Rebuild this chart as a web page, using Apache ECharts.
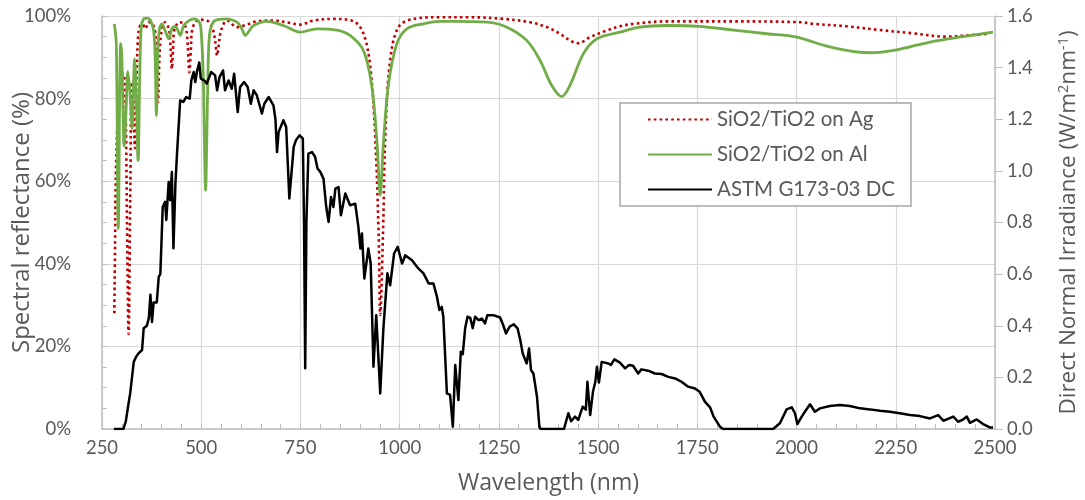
<!DOCTYPE html>
<html><head><meta charset="utf-8">
<script src="https://cdn.jsdelivr.net/npm/echarts@6/dist/echarts.min.js"></script>
<style>html,body{margin:0;padding:0;background:#fff}#c{width:1085px;height:500px}</style>
</head><body><div id="c"></div>
<script>
// Wavelength tick labels (nm)
const xTicks = [250, 500, 750, 1000, 1250, 1500, 1750, 2000, 2250, 2500];
const seriesNames = ['SiO2/TiO2 on Ag', 'SiO2/TiO2 on Al', 'ASTM G173-03 DC'];

// SiO2/TiO2 on Ag : spectral reflectance (%)
const agWl = [281,283,285,290,297,304,309,313,317,321,325,328,333,337,341,346,352,359,368,378,384,388,391,394,397,403,409,415,420,423,426,429,432,440,447,456,462,466,470,474,477,487,502,518,529,535,540,544,548,556,565,590,615,640,682,724,749,783,833,884,909,926,938,947,951,958,964,976,997,1035,1102,1177,1261,1328,1371,1404,1429,1450,1480,1522,1555,1589,1672,1841,2009,2042,2126,2210,2294,2378,2429,2487];
const agR  = [28,45,62,76,84,86,80,50,23,55,84,82,68,85,95,97.7,98,96.9,98.5,98,96,88,79.2,88,94.1,97.5,98.5,97.8,96,92,87.2,92,96.5,98.2,98.5,98,96.9,93,86.4,92,96.5,98.7,99.1,98.7,96.9,94,90.4,93,95.7,98,98.9,97.3,97.9,98.7,98.9,98.3,97.9,98.9,99.3,98.7,95.7,87.6,71.5,47.3,27.6,47.3,71.5,89.2,97.3,99.3,99.7,99.7,99.3,98.5,97.3,95.7,94.1,93.4,94.9,96.5,97.5,98.1,98.7,98.7,98.5,98.1,97.5,96.6,95.8,95.0,95.3,95.7];

// SiO2/TiO2 on Al : spectral reflectance (%)
const alWl = [281,286,291,297,300,306,311,315,320,326,330,332,336,341,345,349,355,363,372,380,384,387,390,394,401,409,418,426,435,441,447,455,464,481,495,500,505,508,511,514,517,521,530,545,565,590,602,611,620,632,665,707,749,791,842,875,909,930,943,951,959,972,993,1018,1060,1102,1135,1220,1270,1320,1354,1383,1408,1429,1463,1497,1555,1605,1672,1753,1841,1925,2000,2084,2185,2252,2336,2419,2495];
const alR  = [98.1,93.3,48.5,93.3,90,68.5,78,86.5,82,72.7,85,89.6,82,65.0,85,97.5,99.3,99.5,98.9,96.5,90,75.9,88,96.5,98.1,96.5,94.5,96.9,97.5,96.5,95.3,97.5,98.5,99.3,98.5,96,86,70,57.8,70,86,95.5,98.5,99.2,99.3,98.5,97,95.3,96.3,97.7,98.7,97.7,96.1,96.9,96.6,95.3,91.6,82.8,69.1,56.6,69.1,83.6,93.3,96.9,98.1,98.7,98.7,98.5,97.3,94.1,89.2,83.2,80.5,83.2,90.9,94.5,96.1,97.3,97.7,97.5,96.6,95.7,94.9,92.5,91.1,91.8,93.7,95.0,96.1];

// ASTM G173-03 direct + circumsolar : irradiance (W/m2/nm)
const astmWl = [280,304,310,316,321,330,336,342,351,355,363,368,372,376,380,388,393,397,403,409,412,418,422,426,430,435,439,447,455,462,471,475,481,485,489,495,499,508,514,525,535,540,546,555,560,569,577,583,592,598,608,617,625,632,640,645,653,659,670,682,687,691,695,707,714,722,733,739,748,756,759,762,765,770,779,787,793,800,808,815,821,827,833,838,846,852,863,875,888,896,901,905,911,921,927,934,941,951,959,969,976,986,995,1000,1006,1011,1014,1031,1047,1060,1073,1085,1094,1100,1106,1110,1119,1127,1134,1140,1148,1154,1159,1165,1171,1178,1184,1190,1199,1207,1215,1221,1236,1253,1261,1268,1277,1287,1297,1304,1310,1320,1326,1331,1337,1346,1352,1355,1414,1425,1432,1442,1450,1461,1469,1473,1480,1487,1493,1497,1502,1509,1526,1532,1541,1555,1568,1578,1588,1601,1609,1626,1643,1660,1677,1694,1710,1727,1744,1756,1769,1782,1791,1807,1815,1941,1958,1975,1988,1996,2002,2013,2021,2034,2046,2059,2084,2109,2134,2160,2185,2210,2235,2260,2286,2311,2336,2357,2370,2383,2395,2407,2418,2429,2437,2454,2470,2487,2495];
const astmIrr = [0,0,0.03,0.09,0.138,0.26,0.28,0.293,0.306,0.39,0.40,0.43,0.52,0.415,0.49,0.49,0.59,0.60,0.86,0.88,0.81,0.957,0.886,0.996,0.70,0.95,1.067,1.273,1.267,1.286,1.28,1.35,1.383,1.344,1.383,1.42,1.357,1.35,1.338,1.383,1.37,1.312,1.363,1.389,1.312,1.35,1.318,1.376,1.228,1.325,1.344,1.325,1.26,1.312,1.293,1.30,1.222,1.26,1.286,1.254,1.2,1.073,1.15,1.196,1.17,0.893,1.093,1.12,1.138,1.125,0.8,0.235,0.8,1.067,1.073,1.054,1.009,0.996,0.97,0.86,0.802,0.899,0.86,0.931,0.937,0.828,0.912,0.867,0.873,0.783,0.699,0.757,0.583,0.699,0.641,0.241,0.441,0.138,0.39,0.603,0.557,0.68,0.706,0.712,0.641,0.66,0.673,0.654,0.622,0.603,0.564,0.564,0.512,0.461,0.473,0.435,0.138,0.132,0.009,0.248,0.112,0.299,0.29,0.39,0.435,0.43,0.39,0.435,0.422,0.428,0.409,0.441,0.441,0.432,0.402,0.37,0.396,0.406,0.39,0.344,0.293,0.254,0.312,0.228,0.215,0.125,0.009,0,0,0.061,0.03,0.048,0.035,0.086,0.075,0.183,0.054,0.144,0.183,0.241,0.18,0.26,0.254,0.248,0.27,0.257,0.235,0.248,0.245,0.215,0.231,0.226,0.215,0.213,0.202,0.196,0.183,0.164,0.157,0.144,0.106,0.084,0.048,0.009,0,0,0.022,0.076,0.084,0.061,0.019,0.048,0.067,0.096,0.067,0.08,0.089,0.093,0.089,0.08,0.076,0.071,0.067,0.061,0.054,0.05,0.041,0.054,0.032,0.04,0.048,0.028,0.035,0.048,0.024,0.037,0.019,0.006,0.006];

const zip = (a, b) => a.map((v, i) => [v, b[i]]);
const txt = '#595959';
const FONT = 'Lato';
const TFONT = 'Open Sans';
const axisGray = '#bfbfbf';
const gridGray = '#d9d9d9';

const chart = echarts.init(document.getElementById('c'), null, {renderer: 'canvas'});
chart.setOption({
  animation: false,
  textStyle: {fontFamily: FONT},
  grid: {left: 102, right: 90, top: 16, bottom: 71, containLabel: false, outerBoundsMode: 'none'},
  legend: {
    orient: 'vertical', left: 620, top: 103,
    padding: [6, 16, 6, 27], itemGap: 14, itemWidth: 64, itemHeight: 20,
    borderColor: '#a6a6a6', borderWidth: 1.5, backgroundColor: '#fff',
    itemStyle: {opacity: 0},
    textStyle: {fontSize: 20.5, color: txt, fontFamily: FONT},
    data: seriesNames
  },
  xAxis: {
    type: 'value', min: xTicks[0], max: xTicks[xTicks.length - 1], interval: 250,
    name: 'Wavelength (nm)', nameLocation: 'middle', nameGap: 43, nameMoveOverlap: false,
    nameTextStyle: {fontSize: 23, color: txt, fontFamily: TFONT},
    axisLine: {lineStyle: {color: axisGray, width: 1.5}},
    axisTick: {show: true, inside: true, length: 5, lineStyle: {color: axisGray}},
    minorTick: {show: true, splitNumber: 5, length: 5, lineStyle: {color: axisGray}},
    splitLine: {show: true, lineStyle: {color: gridGray, width: 1.2}},
    axisLabel: {fontSize: 18.5, color: txt, margin: 10, fontFamily: FONT, formatter: v => String(v)}
  },
  yAxis: [{
    type: 'value', min: 0, max: 100, interval: 20, position: 'left',
    name: 'Spectral reflectance (%)', nameLocation: 'middle', nameGap: 68, nameRotate: 90,
    nameMoveOverlap: false,
    nameTextStyle: {fontSize: 24, color: txt, fontFamily: TFONT},
    axisLine: {show: true, lineStyle: {color: axisGray, width: 1.5}},
    axisTick: {show: true, inside: true, length: 5, lineStyle: {color: axisGray}},
    minorTick: {show: true, splitNumber: 4, length: 5, lineStyle: {color: axisGray}},
    splitLine: {show: true, lineStyle: {color: gridGray, width: 1.2}},
    axisLabel: {fontSize: 18.5, color: txt, margin: 31, formatter: '{value}%', fontFamily: FONT}
  }, {
    type: 'value', min: 0, max: 1.6, interval: 0.2, position: 'right',
    name: '{a|Direct Normal Irradiance (W/m}{s|2}{a|nm}{s|-1}{a|)}',
    nameLocation: 'middle', nameGap: 61, nameRotate: 90, nameMoveOverlap: false,
    nameTextStyle: {
      fontSize: 22.5, color: txt, fontFamily: TFONT,
      rich: {
        a: {fontSize: 22.5, color: txt, fontFamily: TFONT, lineHeight: 26, verticalAlign: 'middle'},
        s: {fontSize: 14.5, color: txt, fontFamily: TFONT, lineHeight: 14, verticalAlign: 'top'}
      }
    },
    axisLine: {show: true, lineStyle: {color: axisGray, width: 1.5}},
    axisTick: {show: true, inside: false, length: 8, lineStyle: {color: axisGray}},
    splitLine: {show: false},
    axisLabel: {fontSize: 18.5, color: txt, margin: 12, fontFamily: FONT,
      formatter: v => v.toFixed(1)}
  }],
  series: [{
    name: seriesNames[0], type: 'line', yAxisIndex: 0, showSymbol: false, symbol: 'none',
    smooth: 0.35, data: zip(agWl, agR),
    lineStyle: {color: '#c00000', width: 2.6, type: [2.6, 3.2], cap: 'butt'},
    itemStyle: {color: '#c00000'}
  }, {
    name: seriesNames[1], type: 'line', yAxisIndex: 0, showSymbol: false, symbol: 'none',
    smooth: 0.35, data: zip(alWl, alR),
    lineStyle: {color: '#70ad47', width: 2.8},
    itemStyle: {color: '#70ad47'}
  }, {
    name: seriesNames[2], type: 'line', yAxisIndex: 1, showSymbol: false, symbol: 'none',
    smooth: false, data: zip(astmWl, astmIrr),
    lineStyle: {color: '#000000', width: 2.5, join: 'round'},
    itemStyle: {color: '#000000'}
  }]
});
</script></body></html>
